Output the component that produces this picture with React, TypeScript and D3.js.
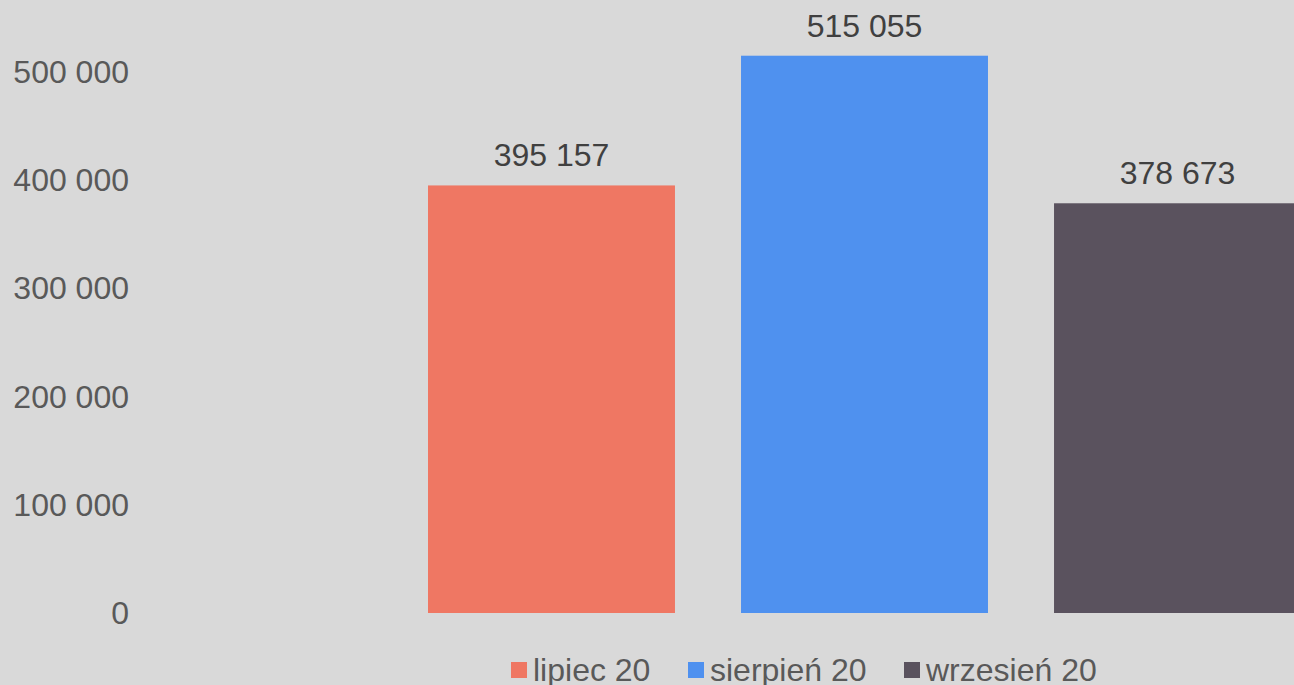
import React from "react";
import * as d3 from "d3";

const series = ["lipiec 20", "sierpień 20", "wrzesień 20"];
const values = [395157, 515055, 378673];
const colors = ["#ef7763", "#4f91ef", "#5a525e"];
const yTicks = [0, 100000, 200000, 300000, 400000, 500000];

const W = 1294;
const H = 685;

const fmt = (v: number) => d3.format(",")(v).replace(/,/g, " ");

export default function App() {
  const y = d3.scaleLinear().domain([0, 500000]).range([613, 72]);
  const x = d3.scaleBand<string>().domain(series).range([428, 1301]).paddingInner(0.211).paddingOuter(0);
  const font = "'Liberation Sans', Arial, sans-serif";
  const legendX = [511, 688, 904];
  return (
    <svg width={W} height={H} style={{ position: "absolute", left: 0, top: 0, display: "block" }}>
      <rect x={0} y={0} width={W} height={H} fill="#d9d9d9" />
      {yTicks.map((t) => (
        <text key={t} x={129} y={y(t) + 11} textAnchor="end" fontFamily={font} fontSize={32} fill="#595959">
          {fmt(t)}
        </text>
      ))}
      {series.map((s, i) => (
        <g key={s}>
          <rect x={x(s)} y={y(values[i])} width={x.bandwidth()} height={y(0) - y(values[i])} fill={colors[i]} />
          <text x={(x(s) as number) + x.bandwidth() / 2} y={y(values[i]) - 19} textAnchor="middle" fontFamily={font} fontSize={32} fill="#404040">
            {fmt(values[i])}
          </text>
        </g>
      ))}
      {series.map((s, i) => (
        <g key={"l" + s}>
          <rect x={legendX[i]} y={662} width={16} height={16} fill={colors[i]} />
          <text x={legendX[i] + 22} y={681} fontFamily={font} fontSize={32} fill="#595959">
            {s}
          </text>
        </g>
      ))}
    </svg>
  );
}
